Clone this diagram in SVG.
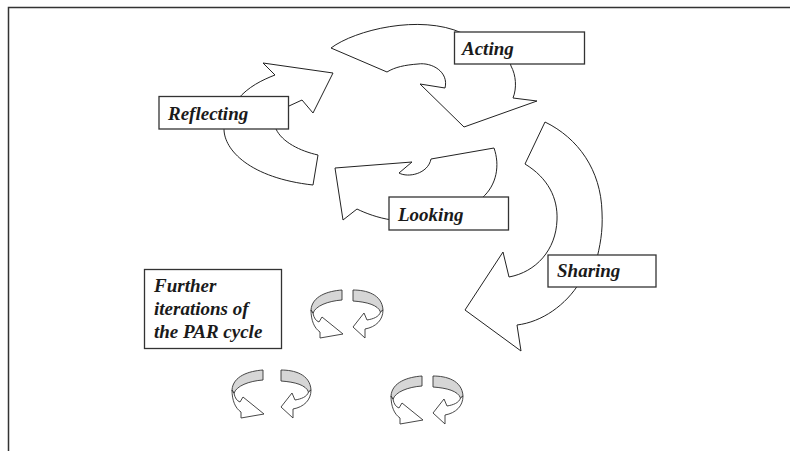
<svg xmlns="http://www.w3.org/2000/svg" xmlns:xlink="http://www.w3.org/1999/xlink" width="790" height="451" viewBox="0 0 790 451">
<style>
.arw{fill:#fff;stroke:#222;stroke-width:1;stroke-linejoin:miter}
.box{fill:#fff;stroke:#333;stroke-width:1.3}
.lbl{font-family:"Liberation Serif","Times New Roman",serif;font-weight:bold;font-style:italic;font-size:19px;fill:#1a1a1a}
.band{fill:#d6d6d6;stroke:#333;stroke-width:0.9}
.front{fill:#fff;stroke:#333;stroke-width:0.9}
</style>
<defs>
<g id="cl">
<path class="band" d="M0,0 C -14,1 -30,6 -31,20 L -29,23.5 C -27,16 -14,11 0,10 Z"/>
<path class="front" d="M-31,20 C -31,30 -28,38 -22,42 L -22,48 L 1,44 L -20,27 L -23,32 C -26,31 -28,28 -29,23.5 Z"/>
</g>
<g id="cr">
<path class="band" d="M11,0 C 24,0 40,4 41,20 L 38.5,22 C 36,15 25,12 11,11 Z"/>
<path class="front" d="M41,20 C 41,30 34,37 23,39 L 23,48 L 11,37 L 22,23 L 25,30 C 31,29 37,27 38.5,22 Z"/>
</g>
</defs>
<rect width="790" height="451" fill="#fff"/>
<path d="M8.5,451 L8.5,7.5 L790,7.5" fill="none" stroke="#333" stroke-width="1.5"/>

<g id="acting">
<path class="arw" d="M331,48 C 355,30 420,14 462,33 C 490,42 508,52 511,66 C 516,75 517,88 513,98 L537,101 L464,127 L420,84 L445,88 C 449,72 432,62 418,64 C 405,65 395,67 387,72 Z"/>
<rect class="box" x="454.5" y="32" width="130" height="32"/>
<text class="lbl" x="462" y="55">Acting</text>
</g>

<g id="reflecting">
<path class="arw" d="M289,106 L302,100 L313,113 L333,73 L263,63 L275,75 C 262,80 248,87 238,99 L 226,120 L224,129 C 224,150 250,178 313,185 L318,155 C 300,151 282,142 276,129 L 278,115 Z"/>
<rect class="box" x="159" y="96.5" width="129.5" height="32.5"/>
<text class="lbl" x="168" y="119.5">Reflecting</text>
</g>

<g id="looking">
<path class="arw" d="M335,168 L412,162 L399,173 C 408,178 428,174 431,159 L494,148 C 500,165 497,185 482,198 L 470,212 L 392,220 C 378,218 365,213 357,209 L343,220 Z"/>
<rect class="box" x="389" y="197" width="119.5" height="33"/>
<text class="lbl" x="398" y="220.5">Looking</text>
</g>

<g id="sharing">
<path class="arw" d="M545,122 C 578,138 601,170 602,212 C 603,232 600,246 596,262 L 580,282 C 566,305 542,322 517,325 L521,351 L465,310 L503,252 L509,277 C 536,272 556,250 557,220 C 558,198 548,178 525,164 Z"/>
<rect class="box" x="548" y="255" width="108" height="32"/>
<text class="lbl" x="557" y="277">Sharing</text>
</g>

<g id="further">
<rect class="box" x="144.5" y="269.5" width="137" height="79"/>
<text class="lbl" x="154" y="292">Further</text>
<text class="lbl" x="154" y="314.5">iterations of</text>
<text class="lbl" x="154" y="338">the PAR cycle</text>
</g>

<g id="cycle1">
<use xlink:href="#cl" transform="translate(342,290)"/>
<use xlink:href="#cr" transform="translate(342,290)"/>
</g>
<g id="cycle2">
<use xlink:href="#cl" transform="translate(263,370)"/>
<use xlink:href="#cr" transform="translate(270,370)"/>
</g>
<g id="cycle3">
<use xlink:href="#cl" transform="translate(422,376)"/>
<use xlink:href="#cr" transform="translate(422,376)"/>
</g>
<g id="connectors"></g>
</svg>
